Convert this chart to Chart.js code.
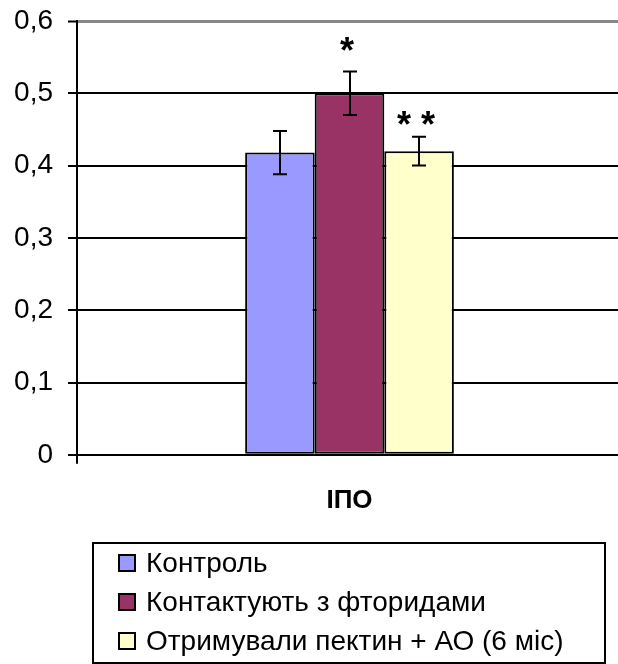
<!DOCTYPE html>
<html>
<head>
<meta charset="utf-8">
<script src="https://cdn.jsdelivr.net/npm/chart.js@4/dist/chart.umd.min.js"></script>
<style>
  html, body { margin: 0; padding: 0; background: #fff; overflow: hidden; }
  #wrap { width: 622px; height: 664px; position: relative; }
</style>
</head>
<body>
<div id="wrap"><canvas id="c"></canvas></div>
<script>
// Index value (ІПО) per group, with standard error and significance marks
const categories = ['ІПО'];
const groupNames = ['Контроль', 'Контактують з фторидами', 'Отримували пектин + АО (6 міс)'];
const groupValues = [0.418, 0.50, 0.42];
const groupErrors = [0.03, 0.03, 0.02];
const groupMarks = ['', '*', '* *'];
const yTicks = [0, 0.1, 0.2, 0.3, 0.4, 0.5, 0.6];

const groupColors = ['#9999FF', '#993366', '#FFFFCC'];
const FONT = '"Liberation Sans", Arial, sans-serif';
const markLift = [0, 9, 0];

// error bars and significance marks drawn on top of the bars
const errorBarPlugin = {
  id: 'errorBars',
  afterDatasetsDraw(chart) {
    const ctx = chart.ctx;
    const y = chart.scales.y;
    chart.data.datasets.forEach((ds, i) => {
      const bar = chart.getDatasetMeta(i).data[0];
      const v = groupValues[i], e = groupErrors[i];
      const yt = y.getPixelForValue(v + e), yb = y.getPixelForValue(v - e);
      const x = Math.round(bar.x);
      ctx.save();
      ctx.strokeStyle = '#000';
      ctx.lineWidth = 2;
      ctx.beginPath();
      ctx.moveTo(x, yt); ctx.lineTo(x, yb);
      ctx.moveTo(x - 7, yt); ctx.lineTo(x + 7, yt);
      ctx.moveTo(x - 7, yb); ctx.lineTo(x + 7, yb);
      ctx.stroke();
      if (groupMarks[i]) {
        ctx.fillStyle = '#000';
        ctx.font = 'bold 36px ' + FONT;
        ctx.textAlign = 'center';
        ctx.textBaseline = 'alphabetic';
        ctx.fillText(groupMarks[i], x - 3, yt - markLift[i]);
      }
      ctx.restore();
    });
  }
};

// boxed legend, one group per row
const boxLegendPlugin = {
  id: 'boxLegend',
  afterDraw(chart) {
    const ctx = chart.ctx;
    const box = { x: 93, y: 543, w: 512, h: 120 };
    ctx.save();
    ctx.strokeStyle = '#000';
    ctx.lineWidth = 2;
    ctx.strokeRect(box.x, box.y, box.w, box.h);
    chart.data.datasets.forEach((ds, i) => {
      const cy = 563 + i * 39;
      ctx.fillStyle = ds.backgroundColor;
      ctx.fillRect(119, cy - 8, 16, 16);
      ctx.strokeRect(119, cy - 8, 16, 16);
      ctx.fillStyle = '#000';
      ctx.font = '28px ' + FONT;
      ctx.textAlign = 'left';
      ctx.textBaseline = 'middle';
      ctx.fillText(ds.label, 146, cy + 1);
    });
    ctx.restore();
  }
};

new Chart(document.getElementById('c'), {
  type: 'bar',
  data: {
    labels: categories,
    datasets: groupNames.map((name, i) => ({
      label: name,
      data: [groupValues[i]],
      backgroundColor: groupColors[i],
      borderColor: '#000',
      borderWidth: 2,
      borderSkipped: false
    }))
  },
  options: {
    responsive: true,
    maintainAspectRatio: false,
    animation: false,
    categoryPercentage: 0.383,
    barPercentage: 1,
    layout: { padding: { left: 0, right: 0, top: 21, bottom: 127 } },
    plugins: {
      legend: { display: false },
      tooltip: { enabled: false }
    },
    scales: {
      x: {
        grid: { drawOnChartArea: false, drawTicks: true, tickLength: 9, color: '#000', lineWidth: 2, offset: true },
        border: { display: true, color: '#000', width: 2 },
        ticks: { color: '#000', font: { family: FONT, size: 26, weight: 'bold' }, padding: 21 },
        afterFit(scale) { scale.paddingLeft = 0; scale.paddingRight = 0; }
      },
      y: {
        min: 0,
        max: 0.6,
        afterBuildTicks(scale) { scale.ticks = yTicks.map(v => ({ value: v })); },
        afterFit(scale) { scale.width = 77; scale.paddingTop = 0; scale.paddingBottom = 0; },
        grid: {
          color: ctx => ctx.tick && ctx.tick.value >= 0.6 ? '#888' : '#000',
          lineWidth: ctx => ctx.tick && ctx.tick.value >= 0.6 ? 3 : 2,
          tickColor: '#000',
          tickWidth: 2,
          tickLength: 9
        },
        border: { display: true, color: '#000', width: 2 },
        ticks: {
          color: '#000',
          font: { family: FONT, size: 28 },
          padding: 15,
          callback: v => v === 0 ? '0' : Number(v).toFixed(1).replace('.', ',')
        }
      }
    }
  },
  plugins: [errorBarPlugin, boxLegendPlugin]
});
</script>
</body>
</html>
